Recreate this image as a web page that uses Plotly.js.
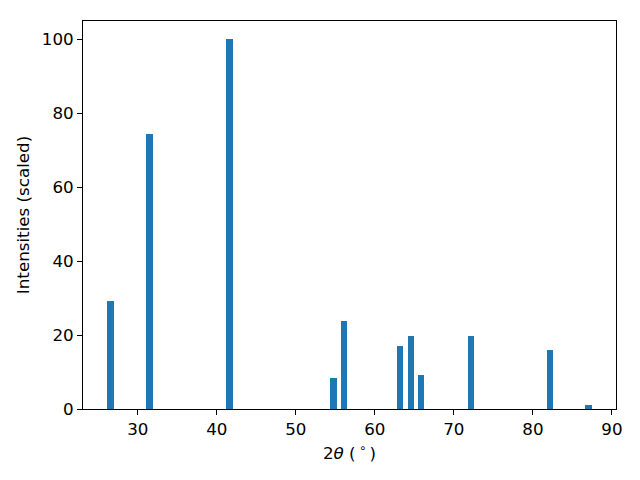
<!DOCTYPE html>
<html>
<head>
<meta charset="utf-8">
<script src="https://cdn.plot.ly/plotly-3.0.1.min.js"></script>
<style>html,body{margin:0;padding:0;background:#fff;}#chart{width:640px;height:480px;}</style>
</head>
<body>
<div id="chart"></div>
<script>
const twoTheta = [26.54, 31.47, 41.59, 54.77, 56.13, 63.15, 64.54, 65.80, 72.20, 82.18, 87.05];
const intensities = [29.2, 74.3, 100.0, 8.5, 23.8, 17.0, 19.7, 9.3, 19.7, 16.1, 1.2];
const xTicks = [30, 40, 50, 60, 70, 80, 90];
const yTicks = [0, 20, 40, 60, 80, 100];

const font = {family: 'DejaVu Sans, sans-serif', size: 16.7, color: '#000'};
const data = [{
  type: 'bar',
  x: twoTheta,
  y: intensities,
  width: 0.8,
  marker: {color: '#1f77b4', line: {width: 0}},
  hoverinfo: 'x+y'
}];
const axisCommon = {
  showline: true, linecolor: '#000', linewidth: 1, mirror: true,
  ticks: 'outside', ticklen: 5, tickwidth: 1, tickcolor: '#000',
  showgrid: false, zeroline: false, tickfont: font
};
const layout = {
  width: 640, height: 480,
  margin: {l: 83, r: 24, t: 21, b: 71},
  paper_bgcolor: '#fff', plot_bgcolor: '#fff',
  showlegend: false, bargap: 0,
  xaxis: Object.assign({}, axisCommon, {
    range: [23.07, 90.52], tickvals: xTicks, ticktext: xTicks.map(String),
    title: {text: '2<i>θ</i> (\u2009<sup>∘</sup>\u2009)', font: font, standoff: 9}
  }),
  yaxis: Object.assign({}, axisCommon, {
    range: [0, 105], tickvals: yTicks, ticktext: yTicks.map(String),
    title: {text: 'Intensities (scaled)', font: font, standoff: 7}
  })
};
Plotly.newPlot('chart', data, layout, {displayModeBar: false, staticPlot: true});
</script>
</body>
</html>
